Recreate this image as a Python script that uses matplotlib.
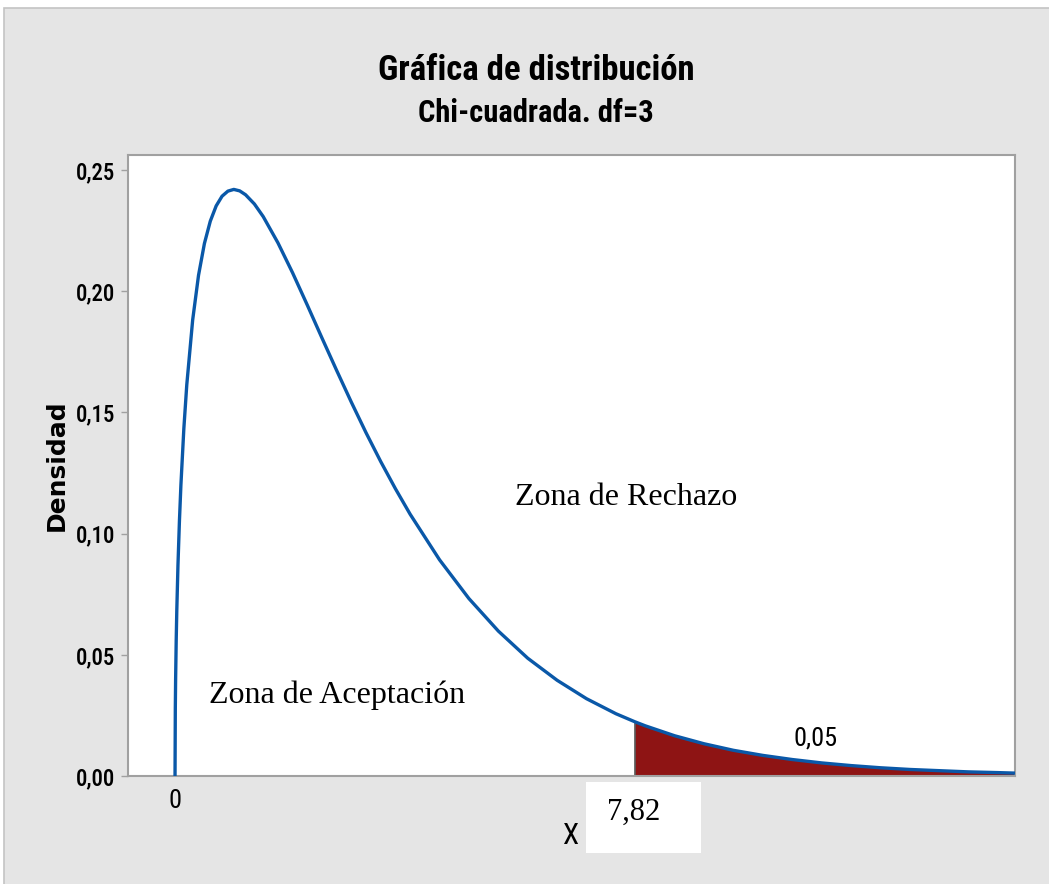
import matplotlib
matplotlib.use("Agg")
import matplotlib.pyplot as plt
from matplotlib import font_manager
from matplotlib.patches import Rectangle

# valores (Chi-cuadrada, df=3)
x_vals = [0.0, 0.005, 0.01, 0.02, 0.03, 0.05, 0.075, 0.1, 0.15, 0.2, 0.3, 0.4,
          0.5, 0.6, 0.7, 0.8, 0.9, 1.0, 1.1, 1.2, 1.35, 1.5, 1.75, 2.0, 2.25,
          2.5, 2.75, 3.0, 3.25, 3.5, 3.75, 4.0, 4.5, 5.0, 5.5, 6.0, 6.5, 7.0,
          7.5, 7.82, 8.0, 8.5, 9.0, 9.5, 10.0, 10.5, 11.0, 11.5, 12.0, 12.5,
          13.0, 13.5, 14.0, 14.28]
densidad = [0.0, 0.0281, 0.0397, 0.0559, 0.0681, 0.0870, 0.1052, 0.1200, 0.1433,
            0.1614, 0.1881, 0.2066, 0.2197, 0.2289, 0.2352, 0.2392, 0.2413,
            0.2420, 0.2414, 0.2398, 0.2360, 0.2308, 0.2200, 0.2076, 0.1943,
            0.1807, 0.1673, 0.1542, 0.1416, 0.1297, 0.1185, 0.1080, 0.0892,
            0.0732, 0.0598, 0.0486, 0.0395, 0.0319, 0.0257, 0.0224, 0.0207,
            0.0166, 0.0133, 0.0106, 0.0085, 0.0068, 0.0054, 0.0043, 0.0034,
            0.0027, 0.0022, 0.0017, 0.0014, 0.0012]
x_critico = 7.82
alfa_texto = "0,05"
y_ticks = [0.00, 0.05, 0.10, 0.15, 0.20, 0.25]
y_labels = ["0,00", "0,05", "0,10", "0,15", "0,20", "0,25"]

# buscar una fuente estrecha si existe
nombres = set(f.name for f in font_manager.fontManager.ttflist)
narrow = "Liberation Sans"
for n in ["Liberation Sans Narrow", "Roboto Condensed", "Open Sans Condensed",
          "DejaVu Sans Condensed", "Noto Sans Condensed"]:
    if n in nombres:
        narrow = n
        break
narrow = [narrow, "DejaVu Sans"]
serif = ["Liberation Serif", "DejaVu Serif"]

fig = plt.figure(figsize=(10.49, 8.84), dpi=100)
fig.patch.set_facecolor("white")
# fondo gris del grafico
fig.patches.append(Rectangle((4/1049, -0.01), 1.0, 1 - 8/884 + 0.01,
                             transform=fig.transFigure, facecolor="#E5E5E5",
                             edgecolor="#C4C4C4", linewidth=1.2, zorder=-1))

ax = fig.add_axes([128/1049, 1 - 776/884, (1015-128)/1049, (776-155)/884])
ax.set_facecolor("white")

# curva y zona de rechazo
ax.plot(x_vals, densidad, color="#0A58A8", linewidth=2.4, zorder=3)
cola_x = [x for x in x_vals if x >= x_critico]
cola_y = [d for x, d in zip(x_vals, densidad) if x >= x_critico]
ax.fill_between(cola_x, 0, cola_y, color="#8E1414", linewidth=0, zorder=2)
ax.vlines(x_critico, 0, cola_y[0], color="#555555", linewidth=1.2, zorder=2)

ax.set_xlim(-0.8, 14.29)
ax.set_ylim(0, 0.2562)

ax.set_yticks(y_ticks)
ax.set_yticklabels(y_labels, family=narrow, fontsize=16.5, fontweight="medium")
ax.set_xticks([0])
ax.set_xticklabels(["0"], family=narrow, fontsize=19)
ax.tick_params(axis="y", direction="out", length=5, width=1, color="#A0A0A0", pad=4)
ax.tick_params(axis="x", length=0, pad=9)

for s in ax.spines.values():
    s.set_color("#A0A0A0")
    s.set_linewidth(1.5)

# textos dentro del grafico
ax.text(7.67, 0.1151, "Zona de Rechazo", family=serif, fontsize=23,
        ha="center", va="center")
ax.text(2.75, 0.0335, "Zona de Aceptación", family=serif, fontsize=23,
        ha="center", va="center")
ax.text(10.9, 0.0155, alfa_texto, family=narrow, fontsize=19,
        ha="center", va="center")

# titulos
fig.text(0.511, 1 - 70/884, "Gráfica de distribución", family=narrow,
         fontsize=25, fontweight="bold", ha="center", va="center")
fig.text(0.511, 1 - 113/884, "Chi-cuadrada. df=3", family=narrow,
         fontsize=22, fontweight="semibold", ha="center", va="center")
fig.text(57/1049, 1 - 465/884, "Densidad", family="DejaVu Sans", fontsize=18,
         fontweight="bold", rotation=90, ha="center", va="center")
fig.text(570/1049, 1 - 836/884, "X", family=narrow, fontsize=21,
         ha="center", va="center")

# recuadro con el valor critico
fig.patches.append(Rectangle((586/1049, 1 - 853/884), 115/1049, 71/884,
                             transform=fig.transFigure, facecolor="white",
                             edgecolor="none", zorder=1))
fig.text(634/1049, 1 - 812/884, "7,82", family=serif, fontsize=22,
         ha="center", va="center", zorder=2)

fig.savefig("out.png", dpi=100, facecolor=fig.get_facecolor())
